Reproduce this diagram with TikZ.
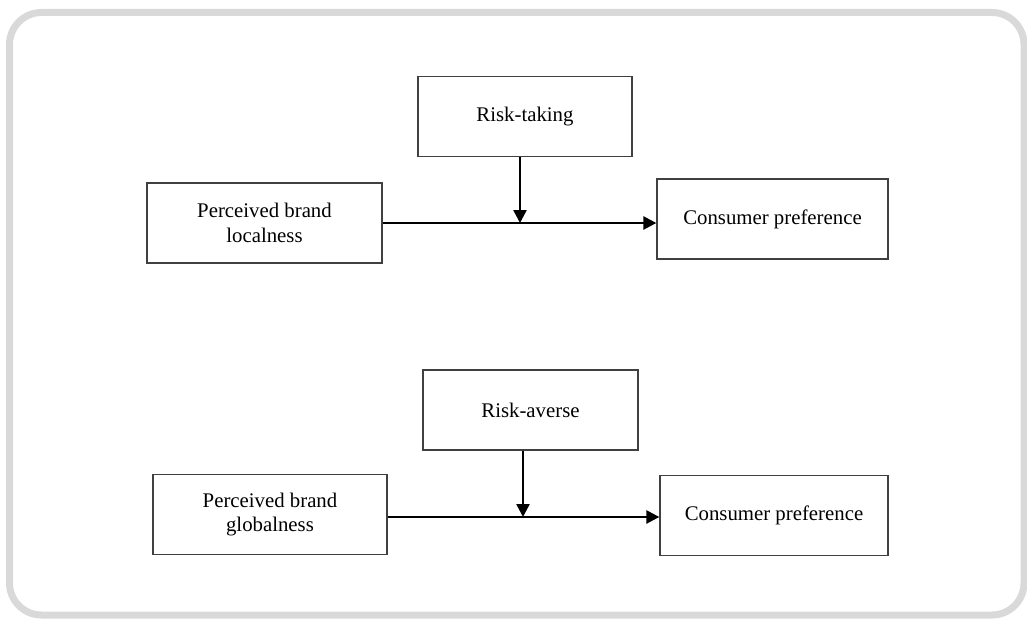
\documentclass[tikz,border=0pt]{standalone}
\usepackage{fontspec}
\setmainfont{Liberation Serif}
\usetikzlibrary{arrows.meta, positioning}

\tikzset{
    factor/.style={draw=black!75, line width=1.3pt, minimum width=#1, minimum height=80pt,
        align=center, font=\fontsize{20.8}{24.5}\selectfont, inner sep=0pt},
    effect/.style={line width=2.5pt, -{Triangle[length=13pt, width=13pt]}},
}

\begin{document}
\begin{tikzpicture}[x=1pt, y=-1pt]
            \useasboundingbox (0,0) rectangle (1027,618);
            \draw[line width=7pt, draw=black!15, rounded corners=32pt] (9.5,12.5) rectangle (1024,615);

            % local brands
            \node[factor=235pt] (local) at (264.5,223) {Perceived brand\\localness};
            \node[factor=214pt] (taking) at (525,116.5) {Risk-taking};
            \node[factor=231pt] (consA) at (772.5,219) {Consumer preference};
            \coordinate (jointA) at (520,223);
            \draw[effect] (local.east) -- (local.east -| consA.west);
            \draw[effect] (jointA |- taking.south) -- (jointA);

            % global brands
            \node[factor=234pt] (global) at (270,514.5) {Perceived brand\\globalness};
            \node[factor=215pt] (averse) at (530.5,410) {Risk-averse};
            \node[factor=228pt] (consB) at (774,515.5) {Consumer preference};
            \coordinate (jointB) at (523,517);
            \draw[effect] (global.east |- jointB) -- (jointB -| consB.west);
            \draw[effect] (jointB |- averse.south) -- (jointB);
\end{tikzpicture}
\end{document}
